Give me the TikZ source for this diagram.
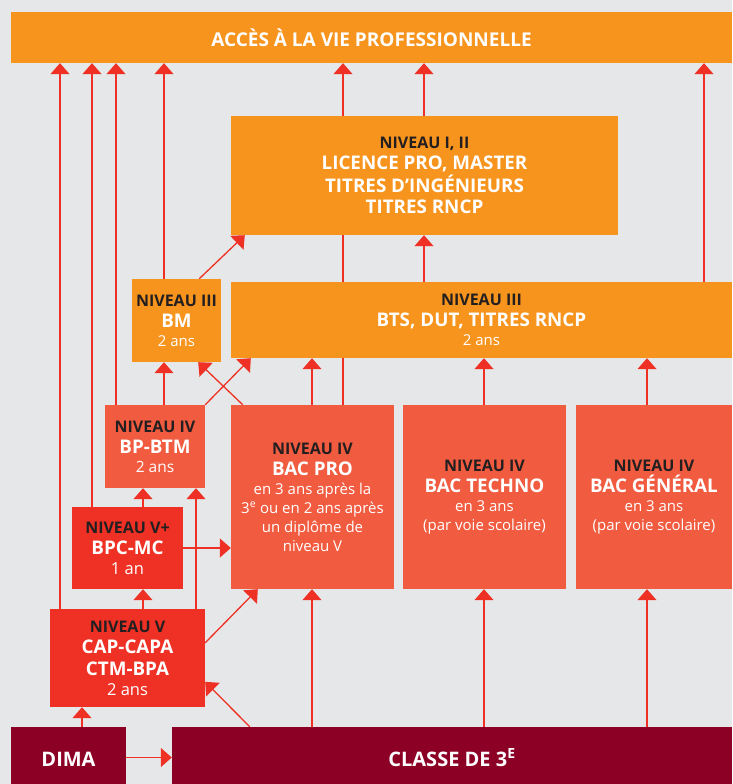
\documentclass[tikz,border=0pt]{standalone}
\usepackage{fontspec}
\setmainfont{Open Sans}
\usetikzlibrary{arrows.meta,backgrounds}
\definecolor{fond}{HTML}{E6E7E8}
\definecolor{orangeniv}{HTML}{F7941D}
\definecolor{saumon}{HTML}{F15B40}
\definecolor{rouge}{HTML}{EE3124}
\definecolor{bordeaux}{HTML}{8C0026}
\definecolor{fleche}{HTML}{EE3124}
\definecolor{sombre}{HTML}{231F20}
\newcommand{\niv}[1]{{\fontsize{16}{19}\selectfont\bfseries\color{sombre}#1}}
\newcommand{\dipl}[1]{{\fontsize{18.8}{19}\selectfont\bfseries #1}}
\begin{document}
\begin{tikzpicture}[x=1pt,y=-1pt,
  box/.style={inner sep=0pt,align=center,text=white,font=\fontsize{15}{19}\selectfont},
  arr/.style={draw=fleche,line width=1.3pt,-{Triangle[width=19pt,length=11pt]}}]
\useasboundingbox (0,0) rectangle (732,784);

\node[box,fill=orangeniv,minimum width=721pt,minimum height=51pt,font=\fontsize{19}{20}\selectfont\bfseries] (acces) at (371.5,37.5) {ACCÈS À LA VIE PROFESSIONNELLE};
\node[box,fill=orangeniv,minimum width=387pt,minimum height=119pt] (lic) at (424.5,175.5) {\niv{NIVEAU I, II}\\[2pt] \dipl{LICENCE PRO, MASTER}\\[2pt] \dipl{TITRES D’INGÉNIEURS}\\[2pt] \dipl{TITRES RNCP}};
\node[box,fill=orangeniv,minimum width=89pt,minimum height=83pt] (bm) at (176.5,320.5) {\niv{NIVEAU III}\\[2pt] \dipl{BM}\\ 2 ans};
\node[box,fill=orangeniv,minimum width=501pt,minimum height=76pt] (bts) at (481.5,320) {\niv{NIVEAU III}\\[2pt] \dipl{BTS, DUT, TITRES RNCP}\\ 2 ans};
\node[box,fill=saumon,minimum width=100pt,minimum height=83pt] (bpbtm) at (155,446.5) {\niv{NIVEAU IV}\\[2pt] \dipl{BP-BTM}\\ {\fontsize{15.5}{19}\selectfont 2 ans}};
\node[box,fill=saumon,minimum width=163pt,minimum height=184pt] (bacpro) at (312.5,497) {\niv{NIVEAU IV}\\[2pt] \dipl{BAC PRO}\\ en 3 ans après la\\ 3\textsuperscript{e} ou en 2 ans après\\ un diplôme de\\ niveau V};
\node[box,fill=saumon,minimum width=163pt,minimum height=184pt] (bactech) at (484.5,497) {\niv{NIVEAU IV}\\[2pt] \dipl{BAC TECHNO}\\ en 3 ans\\ (par voie scolaire)};
\node[box,fill=saumon,minimum width=156pt,minimum height=184pt] (bacgen) at (654,497) {\niv{NIVEAU IV}\\[2pt] \dipl{BAC GÉNÉRAL}\\ en 3 ans\\ (par voie scolaire)};
\node[box,fill=rouge,minimum width=111pt,minimum height=82pt] (bpcmc) at (127.5,548) {\niv{NIVEAU V+}\\[2pt] \dipl{BPC-MC}\\[1pt] {\fontsize{16.5}{19}\selectfont 1 an}};
\node[box,fill=rouge,minimum width=155pt,minimum height=98pt] (cap) at (127.5,658) {\niv{NIVEAU V}\\[2pt] \dipl{CAP-CAPA}\\[3pt] \dipl{CTM-BPA}\\[1pt] {\fontsize{16.5}{19}\selectfont 2 ans}};
\node[box,fill=bordeaux,minimum width=115pt,minimum height=57pt,text height=21pt,text depth=0pt,font=\fontsize{20}{20}\selectfont\bfseries] (dima) at (68.5,755.5) {DIMA};
\node[box,fill=bordeaux,minimum width=560pt,minimum height=57pt,text height=21pt,text depth=0pt,font=\fontsize{20}{20}\selectfont\bfseries] (classe) at (452,755.5) {CLASSE DE 3\textsuperscript{E}};

\coordinate (x60) at (60,0);
\coordinate (x82) at (82,0);
\coordinate (x92) at (92,0);
\coordinate (x116) at (116,0);
\coordinate (x143) at (143,0);
\coordinate (x164) at (164,0);
\coordinate (x196) at (196,0);
\coordinate (x312) at (312,0);
\coordinate (x343) at (343,0);
\coordinate (x424) at (424,0);
\coordinate (x484) at (484,0);
\coordinate (x647) at (647,0);
\coordinate (x704) at (704,0);

\begin{scope}[on background layer]
\fill[fond] (0,0) rectangle (732,784);
\draw[arr] (cap.north -| x60) -- (acces.south -| x60);
\draw[arr] (bpcmc.north -| x92) -- (acces.south -| x92);
\draw[arr] (bpbtm.north -| x116) -- (acces.south -| x116);
\draw[arr] (bm.north -| x164) -- (acces.south -| x164);
\draw[arr] (bacpro.north -| x343) -- (acces.south -| x343);
\draw[arr] (lic.north -| x424) -- (acces.south -| x424);
\draw[arr] (bts.north -| x704) -- (acces.south -| x704);
\draw[arr] (bts.north -| x424) -- (lic.south -| x424);
\draw[arr] ([xshift=-22pt]bm.north east) -- ([xshift=14pt]lic.south west);
\draw[arr] ([xshift=12pt]bacpro.north west) -- ([xshift=-23pt]bm.south east);
\draw[arr] (bpbtm.north east) -- ([xshift=20pt]bts.south west);
\draw[arr] (bpbtm.north -| x164) -- (bm.south -| x164);
\draw[arr] (bacpro.north -| x312) -- (bts.south -| x312);
\draw[arr] (bactech.north -| x484) -- (bts.south -| x484);
\draw[arr] (bacgen.north -| x647) -- (bts.south -| x647);
\draw[arr] (bpcmc.north -| x143) -- (bpbtm.south -| x143);
\draw[arr] (cap.north -| x196) -- (bpbtm.south -| x196);
\draw[arr] (cap.north -| x143) -- (bpcmc.south -| x143);
\draw[arr] (bpcmc.east) -- (bpcmc.east -| bacpro.west);
\draw[arr] ([yshift=-34pt]cap.north east) -- ([xshift=27pt]bacpro.south west);
\draw[arr] ([xshift=78pt]classe.north west) -- ([yshift=-73pt]cap.north east);
\draw[arr] (classe.north -| x312) -- (bacpro.south -| x312);
\draw[arr] (classe.north -| x484) -- (bactech.south -| x484);
\draw[arr] (classe.north -| x647) -- (bacgen.south -| x647);
\draw[arr] (dima.north -| x82) -- (cap.south -| x82);
\draw[arr] ([yshift=-2pt]dima.east) -- ([yshift=-2pt]dima.east -| classe.west);
\end{scope}
\end{tikzpicture}
\end{document}
